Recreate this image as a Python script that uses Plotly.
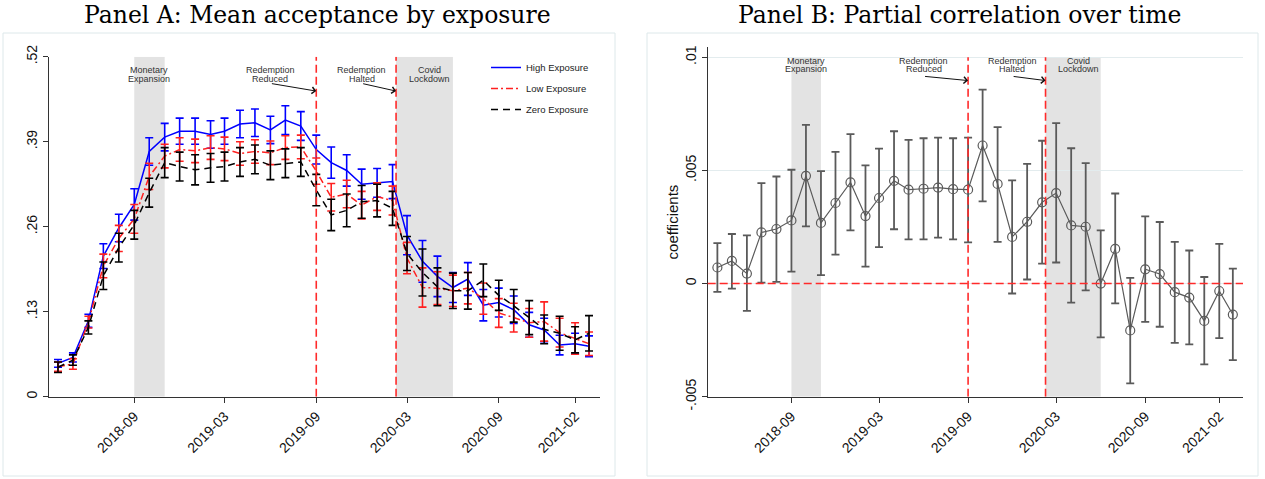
import plotly.graph_objects as go

W, H = 1265, 479

# ---------------- data ----------------
months = [
    "2018-04-01", "2018-05-01", "2018-06-01", "2018-07-01", "2018-08-01", "2018-09-01",
    "2018-10-01", "2018-11-01", "2018-12-01", "2019-01-01", "2019-02-01", "2019-03-01",
    "2019-04-01", "2019-05-01", "2019-06-01", "2019-07-01", "2019-08-01", "2019-09-01",
    "2019-10-01", "2019-11-01", "2019-12-01", "2020-01-01", "2020-02-01", "2020-03-01",
    "2020-04-01", "2020-05-01", "2020-06-01", "2020-07-01", "2020-08-01", "2020-09-01",
    "2020-10-01", "2020-11-01", "2020-12-01", "2021-01-01", "2021-02-01", "2021-03-01",
]

# Panel A: mean acceptance and 95% CI half-widths by exposure group
high_mean = [0.051, 0.060, 0.116, 0.215, 0.258, 0.294, 0.375, 0.397, 0.406, 0.406, 0.401, 0.406,
             0.417, 0.419, 0.408, 0.423, 0.414, 0.378, 0.358, 0.346, 0.325, 0.327, 0.329, 0.247,
             0.207, 0.184, 0.167, 0.180, 0.140, 0.144, 0.133, 0.110, 0.102, 0.079, 0.081, 0.077]
high_ci = [0.006, 0.007, 0.010, 0.019, 0.021, 0.024, 0.021, 0.021, 0.020, 0.020, 0.021, 0.020,
           0.021, 0.021, 0.021, 0.022, 0.022, 0.022, 0.024, 0.024, 0.023, 0.022, 0.026, 0.030,
           0.032, 0.031, 0.023, 0.025, 0.024, 0.022, 0.021, 0.019, 0.018, 0.015, 0.016, 0.016]

low_mean = [0.046, 0.050, 0.114, 0.200, 0.242, 0.272, 0.337, 0.368, 0.378, 0.376, 0.381, 0.379,
            0.372, 0.375, 0.373, 0.381, 0.382, 0.345, 0.305, 0.310, 0.293, 0.306, 0.300, 0.212,
            0.167, 0.166, 0.162, 0.166, 0.150, 0.128, 0.121, 0.113, 0.115, 0.098, 0.089, 0.081]
low_ci = [0.007, 0.008, 0.009, 0.018, 0.020, 0.022, 0.020, 0.018, 0.018, 0.018, 0.018, 0.018,
          0.018, 0.018, 0.018, 0.018, 0.018, 0.020, 0.021, 0.021, 0.021, 0.021, 0.022, 0.024,
          0.030, 0.025, 0.024, 0.024, 0.024, 0.022, 0.022, 0.022, 0.030, 0.022, 0.024, 0.018]

zero_mean = [0.045, 0.056, 0.106, 0.185, 0.228, 0.263, 0.312, 0.358, 0.352, 0.347, 0.350, 0.352,
             0.359, 0.363, 0.354, 0.357, 0.359, 0.316, 0.278, 0.285, 0.298, 0.300, 0.288, 0.219,
             0.190, 0.168, 0.162, 0.162, 0.178, 0.155, 0.139, 0.121, 0.103, 0.097, 0.087, 0.097]
zero_ci = [0.008, 0.008, 0.010, 0.021, 0.022, 0.022, 0.022, 0.023, 0.022, 0.023, 0.022, 0.022,
           0.022, 0.022, 0.022, 0.022, 0.022, 0.024, 0.024, 0.025, 0.025, 0.025, 0.026, 0.026,
           0.036, 0.029, 0.027, 0.028, 0.025, 0.023, 0.025, 0.026, 0.022, 0.026, 0.020, 0.027]

# Panel B: partial correlation coefficients with CI bounds
coef = [0.00071, 0.00100, 0.00044, 0.00226, 0.00241, 0.00279, 0.00476, 0.00268, 0.00356,
        0.00447, 0.00298, 0.00378, 0.00454, 0.00415, 0.00419, 0.00424, 0.00417, 0.00415,
        0.00610, 0.00440, 0.00206, 0.00273, 0.00359, 0.00400, 0.00257, 0.00251, 0.00000,
        0.00153, -0.00207, 0.00063, 0.00042, -0.00038, -0.00062, -0.00165, -0.00033, -0.00137]
coef_lo = [-0.00037, -0.00022, -0.00121, 0.00004, 0.00007, 0.00053, 0.00253, 0.00037, 0.00128,
           0.00235, 0.00075, 0.00161, 0.00240, 0.00195, 0.00195, 0.00203, 0.00195, 0.00182,
           0.00363, 0.00184, -0.00044, 0.00018, 0.00088, 0.00093, -0.00084, -0.00030, -0.00238,
           -0.00088, -0.00441, -0.00169, -0.00191, -0.00262, -0.00269, -0.00357, -0.00241, -0.00338]
coef_hi = [0.00179, 0.00219, 0.00213, 0.00444, 0.00473, 0.00503, 0.00701, 0.00497, 0.00582,
           0.00660, 0.00522, 0.00596, 0.00673, 0.00635, 0.00642, 0.00645, 0.00642, 0.00645,
           0.00857, 0.00691, 0.00456, 0.00529, 0.00631, 0.00709, 0.00598, 0.00532, 0.00235,
           0.00398, 0.00025, 0.00297, 0.00272, 0.00184, 0.00146, 0.00029, 0.00175, 0.00066]

# axis ticks
x_tickvals = ["2018-09-01", "2019-03-01", "2019-09-01", "2020-03-01", "2020-09-01", "2021-02-01"]
x_ticktext = ["2018-09", "2019-03", "2019-09", "2020-03", "2020-09", "2021-02"]
ya_tickvals = [0, 0.13, 0.26, 0.39, 0.52]
ya_ticktext = ["0", ".13", ".26", ".39", ".52"]
yb_tickvals = [-0.005, 0, 0.005, 0.01]
yb_ticktext = ["-.005", "0", ".005", ".01"]

# policy events
shade_periods = [("2018-09-01", "2018-11-01"), ("2020-02-08", "2020-06-01")]
event_lines = ["2019-09-01", "2020-02-08"]
event_labels = [
    ("Monetary\nExpansion", "2018-10-01", None),
    ("Redemption\nReduced", "2019-06-01", "2019-09-01"),
    ("Redemption\nHalted", "2019-12-01", "2020-02-08"),
    ("Covid\nLockdown", "2020-04-16", None),
]

# ---------------- styling ----------------
SANS = "Liberation Sans, Arial, sans-serif"
SERIF = "DejaVu Serif, serif"
AXIS_COLOR = "#333333"
RED = "#ff2a2a"
GREY = "#5a5a5a"


def dom_x(p0, p1):
    return [p0 / W, p1 / W]


def dom_y(top, bottom):
    return [1 - bottom / H, 1 - top / H]


fig = go.Figure()

groups = [
    ("High Exposure", high_mean, high_ci, "#0000ff", "solid"),
    ("Low Exposure", low_mean, low_ci, "#ff2020", "7px,3px,2px,3px"),
    ("Zero Exposure", zero_mean, zero_ci, "#000000", "7px,5px"),
]
for name, mean, ci, color, dash in groups:
    fig.add_trace(go.Scatter(
        x=months, y=mean, name=name, mode="lines",
        line=dict(color=color, width=1.5, dash=dash),
        error_y=dict(type="data", array=ci, visible=True, color=color, thickness=1.6, width=4),
        xaxis="x", yaxis="y", legendgroup=name,
    ))

fig.add_trace(go.Scatter(
    x=months, y=coef, mode="lines+markers", showlegend=False,
    line=dict(color=GREY, width=1.2),
    marker=dict(symbol="circle-open", size=9, color=GREY, line=dict(width=1.2)),
    error_y=dict(type="data", symmetric=False,
                 array=[h - c for h, c in zip(coef_hi, coef)],
                 arrayminus=[c - l for c, l in zip(coef, coef_lo)],
                 color=GREY, thickness=1.8, width=4),
    xaxis="x2", yaxis="y2",
))

shapes = []
annotations = []

# panel frames
for x0, x1 in [(3, 615), (647, 1258)]:
    shapes.append(dict(type="rect", xref="paper", yref="paper",
                       x0=x0 / W, x1=x1 / W, y0=1 - 476 / H, y1=1 - 33 / H,
                       line=dict(color="#dde8ea", width=1), fillcolor="rgba(0,0,0,0)",
                       layer="below"))

panels = [
    # (xref, yref, ymin, ymax, text line 1 y, text line 2 y, arrow tail y, arrow head y)
    ("x", "y", 0, 0.52, 0.4994, 0.4862, 0.4792, 0.4674),
    ("x2", "y2", -0.005, 0.01, 0.00985, 0.00947, 0.00916, 0.00897),
]
for xr, yr, y0, y1, t1, t2, tail_y, head_y in panels:
    for a, b in shade_periods:
        shapes.append(dict(type="rect", xref=xr, yref=yr, x0=a, x1=b, y0=y0, y1=y1,
                           fillcolor="#e3e3e3", line=dict(width=0), layer="below"))
    for d in event_lines:
        shapes.append(dict(type="line", xref=xr, yref=yr, x0=d, x1=d, y0=y0, y1=y1,
                           line=dict(color=RED, width=1.6, dash="8px,4px"), layer="above"))
    for text, xpos, target in event_labels:
        for line_txt, ly in zip(text.split("\n"), (t1, t2)):
            annotations.append(dict(xref=xr, yref=yr, x=xpos, y=ly, text=line_txt,
                                    showarrow=False, xanchor="center", yanchor="middle",
                                    font=dict(family=SANS, size=9, color="#333333")))
        if target is not None:
            annotations.append(dict(xref=xr, yref=yr, x=target, y=head_y,
                                    axref=xr, ayref=yr, ax=xpos, ay=tail_y, text="",
                                    showarrow=True, arrowhead=4, arrowsize=1.3,
                                    arrowwidth=1, arrowcolor="#111111", standoff=0))

# zero reference line in panel B
shapes.append(dict(type="line", xref="x2 domain", yref="y2", x0=0, x1=1, y0=0, y1=0,
                   line=dict(color=RED, width=1.4, dash="8px,4px"), layer="above"))

# panel titles
for title_text, cx in [("Panel A: Mean acceptance by exposure", 317),
                       ("Panel B: Partial correlation over time", 960)]:
    annotations.append(dict(xref="paper", yref="paper", x=cx / W, y=1,
                            text=title_text, showarrow=False,
                            xanchor="center", yanchor="top", borderpad=0,
                            font=dict(family=SERIF, size=23.5, color="#000000")))

common_x = dict(type="date", tickvals=x_tickvals, ticktext=x_ticktext, tickangle=-45,
                showgrid=False, zeroline=False, showline=True, linecolor=AXIS_COLOR,
                linewidth=1, ticks="outside", ticklen=5, tickcolor=AXIS_COLOR,
                automargin=False,
                tickfont=dict(family=SANS, size=14, color="#111111"))
common_y = dict(tickangle=-90, zeroline=False, showline=True, linecolor=AXIS_COLOR,
                linewidth=1, ticks="outside", ticklen=5, tickcolor=AXIS_COLOR,
                automargin=False,
                tickfont=dict(family=SANS, size=14, color="#111111"))

fig.update_layout(
    width=W, height=H,
    margin=dict(l=0, r=0, t=0, b=0, pad=0, autoexpand=False),
    paper_bgcolor="white", plot_bgcolor="white",
    xaxis=dict(domain=dom_x(49, 600), range=["2018-03-14", "2021-03-23"], anchor="y",
               **common_x),
    yaxis=dict(domain=dom_y(56.7, 396.7), range=[0, 0.52], tickvals=ya_tickvals,
               ticktext=ya_ticktext, showgrid=False, anchor="x", **common_y),
    xaxis2=dict(domain=dom_x(707.7, 1243), range=["2018-03-12", "2021-03-22"], anchor="y2",
                **common_x),
    yaxis2=dict(domain=dom_y(47.3, 396.7), range=[-0.005, 0.01044], tickvals=yb_tickvals,
                ticktext=yb_ticktext, showgrid=True, gridcolor="#e3ecee", gridwidth=1,
                anchor="x2", title=dict(text="coefficients", standoff=0,
                                        font=dict(family=SANS, size=15, color="#111111")),
                **common_y),
    legend=dict(x=486 / W, y=1 - 53 / H, xanchor="left", yanchor="top",
                font=dict(family=SANS, size=9.5, color="#222222"),
                bgcolor="rgba(0,0,0,0)", itemwidth=30, traceorder="grouped",
                tracegroupgap=2),
    shapes=shapes,
    annotations=annotations,
    showlegend=True,
)

fig.write_html("out.html")
